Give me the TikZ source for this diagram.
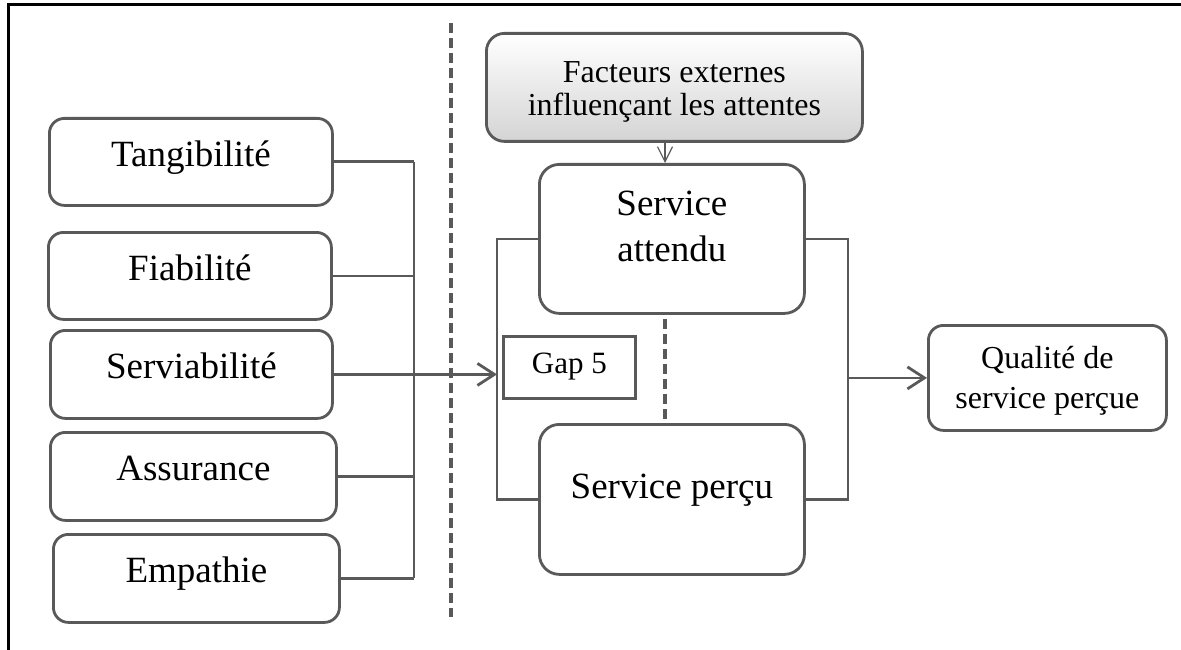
\documentclass[tikz,border=0pt]{standalone}
\usepackage{fontspec}
\setmainfont{Liberation Serif}
\usetikzlibrary{arrows.meta,calc}
\definecolor{linegray}{HTML}{595959}
\definecolor{shadegray}{HTML}{D4D4D4}
\tikzset{
  box/.style={draw=linegray, line width=2.8pt, rounded corners=15pt,
    anchor=north west, inner sep=0pt},
  bigbox/.style={box, rounded corners=20pt},
  lab/.style={anchor=base, inner sep=0pt, font=\fontsize{37}{44}\selectfont},
  smalllab/.style={anchor=base, inner sep=0pt, font=\fontsize{32}{38}\selectfont},
  conn/.style={draw=linegray, line width=2.8pt},
  openarrow/.style={-{Straight Barb[length=17pt,width=22pt,line width=2.8pt]}},
  thinarrow/.style={draw=linegray, line width=1.2pt,
    -{Straight Barb[length=15pt,width=15pt,line width=1.2pt]}},
  divider/.style={draw=linegray, line width=3.2pt, dash pattern=on 10pt off 5pt},
}
\begin{document}
\begin{tikzpicture}[x=1pt,y=-1pt]
\useasboundingbox (0,0) rectangle (1181,650);

% outer frame
\draw[black, line width=3pt] (8,650) -- (8,5) -- (1181,5);

% guide coordinates
\coordinate (bus) at (414,0);
\coordinate (lb) at (497,0);
\coordinate (rb) at (848,0);
\coordinate (mid) at (665,0);
\coordinate (divtop) at (451,23);
\coordinate (divbot) at (451,617);

% separating dashed line
\draw[divider] (divtop) -- (divbot);

% five dimensions
\node[box, minimum width=283pt, minimum height=87pt] (tang) at (48,117) {};
\node[lab] (tangL) at ($(tang.north)+(0,50)$) {Tangibilité};
\node[box, minimum width=283pt, minimum height=87pt] (fiab) at (47,231) {};
\node[lab] (fiabL) at ($(fiab.north)+(0,49)$) {Fiabilité};
\node[box, minimum width=282pt, minimum height=88pt] (serv) at (49,329) {};
\node[lab] (servL) at ($(serv.north)+(0,49)$) {Serviabilité};
\node[box, minimum width=286pt, minimum height=88pt] (assu) at (49,431) {};
\node[lab] (assuL) at ($(assu.north)+(0,49)$) {Assurance};
\node[box, minimum width=286pt, minimum height=88pt] (empa) at (52,533) {};
\node[lab] (empaL) at ($(empa.north)+(0,49)$) {Empathie};

% collector
\draw[conn] (tang.east) -- (tang.east -| bus);
\draw[conn] (fiab.east) -- (fiab.east -| bus);
\draw[conn] (assu.east) -- (assu.east -| bus);
\draw[conn] (empa.east) -- (empa.east -| bus);
\draw[conn] (tang.east -| bus) -- (empa.east -| bus);
\draw[conn, openarrow] (serv.east) -- (serv.east -| lb);

% external factors
\node[box, rounded corners=18pt, minimum width=376pt, minimum height=108pt,
      top color=white, bottom color=shadegray] (fact) at (485,32) {};
\node[smalllab] (factL1) at ($(fact.north)+(0,51)$) {Facteurs externes};
\node[smalllab] (factL2) at ($(fact.north)+(0,84)$) {influençant les attentes};

% expected and perceived service
\node[bigbox, minimum width=265pt, minimum height=149pt] (att) at (538,163) {};
\node[lab] (attL1) at ($(att.north)+(0,52)$) {Service};
\node[lab] (attL2) at ($(att.north)+(0,98)$) {attendu};
\node[bigbox, minimum width=265pt, minimum height=150pt] (per) at (538,423) {};
\node[lab] (perL) at ($(per.north)+(0,75)$) {Service perçu};

\draw[thinarrow] (fact.south -| mid) -- (att.north -| mid);
\draw[divider] ($(att.south -| mid)+(0,4)$) -- (per.north -| mid);

% gap box
\node[draw=linegray, line width=2.8pt, inner sep=0pt, anchor=north west,
      minimum width=132pt, minimum height=62pt] (gap) at (502,335) {};
\node[anchor=base, inner sep=0pt, font=\fontsize{31}{36}\selectfont] (gapL)
      at ($(gap.north)+(0,38)$) {Gap 5};

% brackets
\draw[conn] (att.west) -- (att.west -| lb) -- (per.west -| lb) -- (per.west);
\draw[conn] (att.east) -- (att.east -| rb) -- (per.east -| rb) -- (per.east);

% perceived quality
\node[box, minimum width=238pt, minimum height=105pt] (qual) at (927,324) {};
\node[smalllab] (qualL1) at ($(qual.north)+(0,44)$) {Qualité de};
\node[smalllab] (qualL2) at ($(qual.north)+(0,84)$) {service perçue};
\draw[conn, openarrow] (qual.west -| rb) -- (qual.west);
\end{tikzpicture}
\end{document}
